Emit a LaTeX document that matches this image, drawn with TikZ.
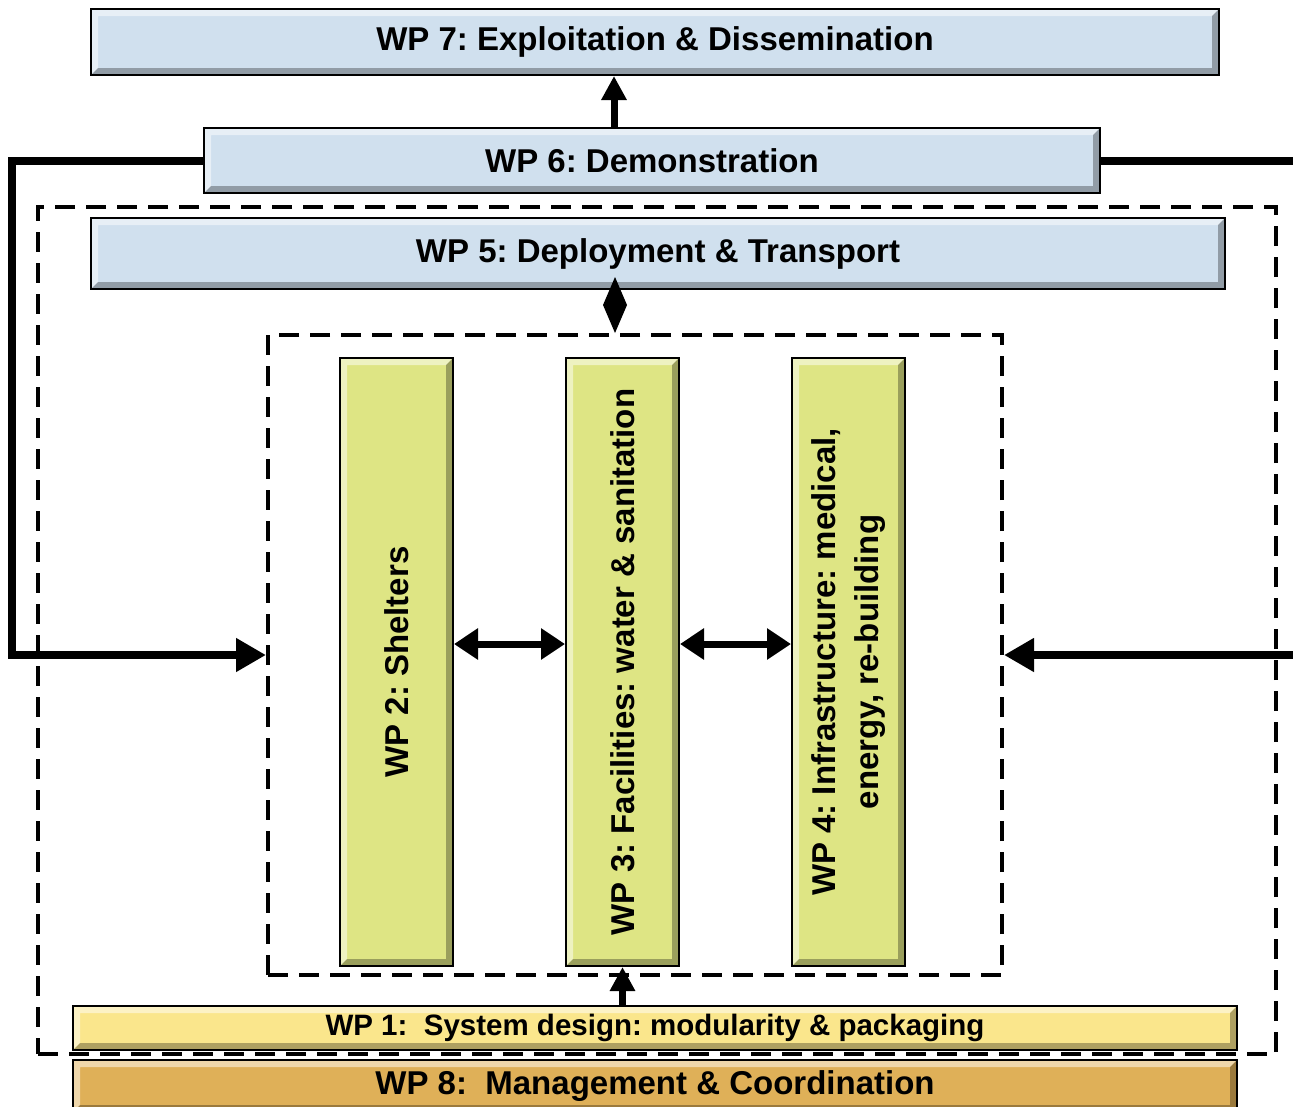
\documentclass[tikz,border=0pt]{standalone}
\usepackage{fontspec}
\setmainfont{Liberation Sans}
\usetikzlibrary{arrows.meta,calc}

\definecolor{wpblue}{HTML}{D0E0EE}
\definecolor{wpgreen}{HTML}{DEE584}
\definecolor{wpyellow}{HTML}{FAE68C}
\definecolor{wpgold}{HTML}{DFB058}

\tikzset{
  bevel/.style={draw=black, line width=2pt, fill=#1, inner sep=0pt,
    font=\bfseries\fontsize{33}{38}\selectfont,
    path picture={
      \path (path picture bounding box.north west) coordinate (nw)
            (path picture bounding box.south east) coordinate (se);
      \fill[white,opacity=0.5] (nw) -- (nw -| se) -- ([xshift=-7pt,yshift=-7pt]nw -| se)
         -- ([xshift=7pt,yshift=-7pt]nw) -- ([xshift=7pt,yshift=7pt]nw |- se) -- (nw |- se) -- cycle;
      \fill[black,opacity=0.3] (se) -- (se |- nw) -- ([xshift=-7pt,yshift=-7pt]se |- nw)
         -- ([xshift=-7pt,yshift=7pt]se) -- ([xshift=7pt,yshift=7pt]nw |- se) -- (nw |- se) -- cycle;
    }},
  vlabel/.style={rotate=90, align=center, font=\bfseries\fontsize{33}{43}\selectfont},
  boxdash/.style={draw=black, line width=4pt, dash pattern=on 20pt off 11pt},
  link/.style={line width=8pt},
  bigtip/.style={-{Triangle[length=30pt,width=32pt]}},
  twotip/.style={line width=7pt, {Triangle[length=24pt,width=30pt]}-{Triangle[length=24pt,width=30pt]}},
  uptip/.style={line width=7pt, -{Triangle[length=24pt,width=24pt]}},
}

\begin{document}
\frenchspacing
\begin{tikzpicture}[x=1pt,y=-1pt]
\useasboundingbox (0,0) rectangle (1293,1106);
\clip (0,0) rectangle (1293,1106);

% dashed frames
\node[boxdash, minimum width=1238pt, minimum height=847pt, inner sep=0pt] (frame) at (657,630.5) {};
\node[boxdash, minimum width=734pt, minimum height=640pt, inner sep=0pt] (core) at (635,655) {};

% horizontal work packages
\node[bevel=wpblue, minimum width=1128pt, minimum height=66pt] (wp7) at (655,42) {WP 7: Exploitation \& Dissemination};
\node[bevel=wpblue, minimum width=896pt, minimum height=65pt] (wp6) at (652,160.5) {WP 6: Demonstration};
\node[bevel=wpblue, minimum width=1134pt, minimum height=71pt] (wp5) at (658,253.5) {WP 5: Deployment \& Transport};

% vertical work packages
\node[bevel=wpgreen, minimum width=113pt, minimum height=608pt] (wp2) at (396.5,662) {};
\node[bevel=wpgreen, minimum width=113pt, minimum height=608pt] (wp3) at (622.5,662) {};
\node[bevel=wpgreen, minimum width=113pt, minimum height=608pt] (wp4) at (848.5,662) {};
\node[vlabel] (t2) at (wp2.center) {WP 2: Shelters};
\node[vlabel] (t3) at (wp3.center) {WP 3: Facilities: water \& sanitation};
\node[vlabel] (t4) at (wp4.center) {WP 4: Infrastructure: medical,\\energy, re-building};

% base work packages
\node[bevel=wpyellow, minimum width=1164pt, minimum height=44pt, font=\bfseries\fontsize{29.5}{34}\selectfont] (wp1) at (655,1028) {WP 1:\ \ System design: modularity \& packaging};
\node[bevel=wpgold, minimum width=1164pt, minimum height=52pt] (wp8) at (655,1086) {WP 8:\ \ Management \& Coordination};

% connectors
\coordinate (x67) at (614,0);
\draw[uptip] (x67 |- wp6.north) -- (x67 |- wp7.south);

\coordinate (ltop) at (12,160.5);
\coordinate (lbot) at (12,655);
\draw[link, bigtip] (wp6.west) -- (ltop) -- (lbot) -- (core.west);

\coordinate (rtop) at (1310,160.5);
\coordinate (rbot) at (1310,655);
\draw[link] (wp6.east) -- (rtop);
\draw[link, bigtip] (rbot) -- (core.east);

\coordinate (dtop) at (615,277);
\fill[black] (dtop) -- ++(12,28) -- (615,333) -- ++(-12,-28) -- cycle;

\draw[twotip] ([yshift=18pt]wp2.east) -- ([yshift=18pt]wp3.west);
\draw[twotip] ([yshift=18pt]wp3.east) -- ([yshift=18pt]wp4.west);
\draw[uptip] (wp1.north -| wp3.south) -- (wp3.south);
\end{tikzpicture}
\end{document}
